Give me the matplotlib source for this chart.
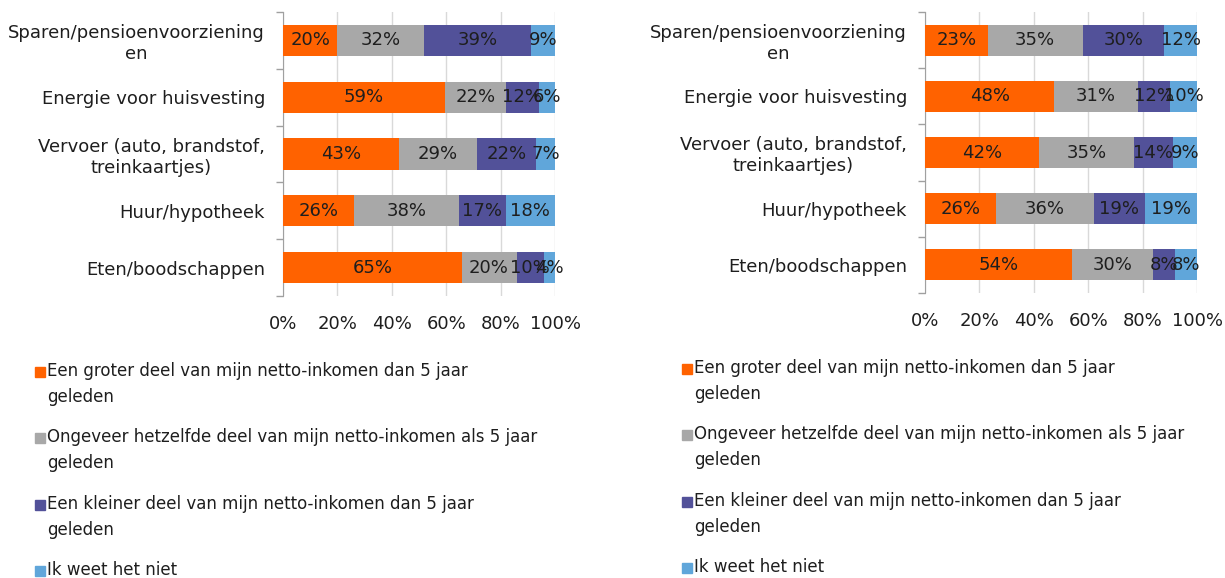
import matplotlib
matplotlib.use("Agg")
import matplotlib.pyplot as plt
import matplotlib.patches as patches
import numpy as np

# categories, top to bottom
categories = ["Sparen/pensioenvoorziening\nen",
              "Energie voor huisvesting",
              "Vervoer (auto, brandstof,\ntreinkaartjes)",
              "Huur/hypotheek",
              "Eten/boodschappen"]

series_names = ["Een groter deel van mijn netto-inkomen dan 5 jaar\ngeleden",
                "Ongeveer hetzelfde deel van mijn netto-inkomen als 5 jaar\ngeleden",
                "Een kleiner deel van mijn netto-inkomen dan 5 jaar\ngeleden",
                "Ik weet het niet"]

# percentages per series (rows = categories, top to bottom)
left_groter = [20, 59, 43, 26, 65]
left_zelfde = [32, 22, 29, 38, 20]
left_kleiner = [39, 12, 22, 17, 10]
left_weetniet = [9, 6, 7, 18, 4]

right_groter = [23, 48, 42, 26, 54]
right_zelfde = [35, 31, 35, 36, 30]
right_kleiner = [30, 12, 14, 19, 8]
right_weetniet = [12, 10, 9, 19, 8]

colors = ["#FF6200", "#A8A8A8", "#525199", "#60A6DA"]
text_color = "#1e1e1e"
fs = 13
fs_leg = 12
plt.rcParams['font.family'] = ['DejaVu Sans']

fig = plt.figure(figsize=(12.25, 5.78), dpi=100)


def draw_panel(rect, data):
    ax = fig.add_axes(rect)
    vals = np.array(data, dtype=float).T  # categories x series
    shares = vals / vals.sum(axis=1, keepdims=True) * 100
    y = np.arange(len(categories))
    left = np.zeros(len(categories))
    for j in range(shares.shape[1]):
        ax.barh(y, shares[:, j], left=left, height=0.55, color=colors[j],
                edgecolor="none", zorder=3)
        for i in range(len(categories)):
            ax.text(left[i] + shares[i, j] / 2, y[i], "%d%%" % vals[i, j],
                    ha="center", va="center", fontsize=fs, color=text_color,
                    zorder=4)
        left = left + shares[:, j]
    ax.set_xlim(0, 100)
    ax.set_ylim(len(categories) - 0.5, -0.5)
    ax.set_yticks(y)
    ax.set_yticklabels(categories, fontsize=fs, color=text_color,
                       multialignment="center")
    ax.set_yticks(np.arange(-0.5, len(categories), 1), minor=True)
    ax.tick_params(axis="y", which="major", length=0, pad=13)
    ax.tick_params(axis="y", which="minor", length=5, color="#A0A0A0", width=1)
    ax.set_xticks(np.arange(0, 101, 20))
    ax.set_xticklabels(["%d%%" % v for v in range(0, 101, 20)], fontsize=fs,
                       color=text_color)
    ax.tick_params(axis="x", length=0, pad=14)
    ax.grid(axis="x", color="#D9D9D9", linewidth=1, zorder=0)
    for s in ["top", "right", "bottom"]:
        ax.spines[s].set_visible(False)
    ax.spines["left"].set_color("#A0A0A0")
    return ax


def draw_legend(x, y0):
    W, H = 1225.0, 578.0
    item_tops = [0, 66, 133, 199]
    for j, name in enumerate(series_names):
        yy = y0 + item_tops[j]
        fig.patches.append(patches.Rectangle(
            ((x - 10) / W, 1 - (yy + 5) / H), 10 / W, 10 / H,
            transform=fig.transFigure, color=colors[j], figure=fig))
        fig.text((x + 2) / W, 1 - (yy - 10) / H, name, fontsize=fs_leg,
                 color=text_color, va="top", ha="left", linespacing=1.6)


draw_panel([283 / 1225, 1 - 296 / 578, 272 / 1225, 284 / 578],
           [left_groter, left_zelfde, left_kleiner, left_weetniet])
draw_panel([925 / 1225, 1 - 293 / 578, 272 / 1225, 281 / 578],
           [right_groter, right_zelfde, right_kleiner, right_weetniet])
draw_legend(45, 372)
draw_legend(692, 369)

fig.savefig("out.png", dpi=100)
